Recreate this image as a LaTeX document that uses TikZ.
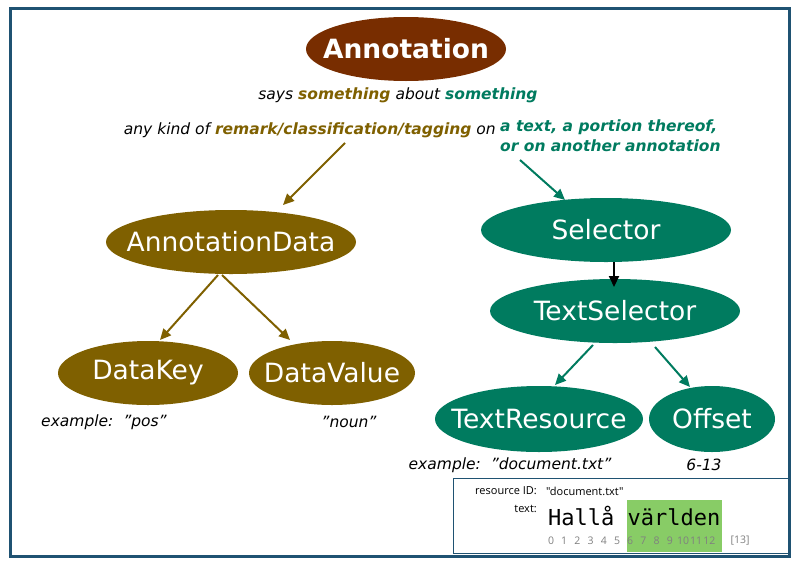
\documentclass[tikz,border=0pt]{standalone}
\usepackage{fontspec}
\setmainfont{DejaVu Sans}
\newfontfamily\monof{DejaVu Sans Mono}
\newfontfamily\condf{Open Sans}
\usetikzlibrary{shapes.geometric,arrows.meta}
\definecolor{frame}{HTML}{1F5272}
\definecolor{brn}{HTML}{782D00}
\definecolor{olv}{HTML}{7F6000}
\definecolor{grn}{HTML}{007B5F}
\definecolor{hl}{HTML}{88CC66}
\tikzset{
  ell/.style={text=white, font=\fontsize{26.5}{30}\selectfont, inner sep=0pt},
  oarr/.style={draw=olv, line width=2pt, -{Triangle[length=11pt,width=10pt]}},
  garr/.style={draw=grn, line width=2pt, -{Triangle[length=11pt,width=10pt]}},
  lab/.style={font=\itshape\fontsize{15.5}{18}\selectfont, inner sep=0pt},
  small/.style={font=\condf\fontsize{11}{12}\selectfont, inner sep=0pt},
  dig/.style={font=\condf\fontsize{10.5}{12}\selectfont, text=gray, inner sep=0pt}
}
\newcommand\qq{\symbol{34}}
\begin{document}
\begin{tikzpicture}[x=1pt,y=-1pt]
\useasboundingbox (0,0) rectangle (799,565);
\draw[frame, line width=3pt] (10,8) rectangle (789,556);
\fill[brn] (406,49) ellipse (100 and 32);
\fill[olv] (231,242) ellipse (125 and 32);
\fill[olv] (148,373) ellipse (90 and 32);
\fill[olv] (332,373) ellipse (83 and 32);
\fill[grn] (606,230) ellipse (125 and 32);
\fill[grn] (615,311) ellipse (125 and 32);
\fill[grn] (539,419) ellipse (104 and 33);
\fill[grn] (712,419) ellipse (63 and 33);
\node[ell, font=\bfseries\fontsize{26.5}{30}\selectfont] (ann) at (406,49) {Annotation};
\node[lab] (says) at (398,95) {says \textcolor{olv}{\bfseries something} about \textcolor{grn}{\bfseries something}};
\node[lab, anchor=east] (kind) at (496,130) {any kind of \textcolor{olv}{\bfseries remark/classification/tagging} on};
\node[lab, anchor=north west, text=grn, font=\bfseries\itshape\fontsize{15.5}{20}\selectfont, align=left] (txt) at (500,120) {a text, a portion thereof,\\or on another annotation};
\node[ell] (ad) at (231,242) {AnnotationData};
\node[ell] (dk) at (148,373) {DataKey};
\node[ell] (dv) at (332,373) {DataValue};
\node[ell] (sel) at (606,230) {Selector};
\node[ell] (ts) at (615,311) {TextSelector};
\node[ell] (tr) at (539,419) {TextResource};
\node[ell] (off) at (712,419) {Offset};
\coordinate (k1) at (345,143); \coordinate (k2) at (283,205);
\coordinate (t1) at (520,160); \coordinate (t2) at (565,200);
\draw[oarr] (k1) -- (k2);
\draw[garr] (t1) -- (t2);
\draw[oarr] (218,275) -- (160,340);
\draw[oarr] (222,275) -- (290,340);
\draw[line width=2pt, -{Triangle[length=11pt,width=10pt]}] (614,262) -- (614,287);
\draw[garr] (593,345) -- (555,385);
\draw[garr] (655,347) -- (690,387);
\node[lab] (ex1) at (104,422) {example:\ \ \qq pos\qq};
\node[lab] (ex2) at (349,422) {\qq noun\qq};
\node[lab] (ex3) at (510,465) {example:\ \ \qq document.txt\qq};
\node[lab] (ex4) at (704,465) {6-13};
\draw[frame, line width=1pt] (453,478) -- (453,553) -- (788,553);
\draw[frame, line width=1pt] (453,478) -- (788,478);
\fill[hl] (627,500) rectangle (722,552);
\node[small, anchor=east] (rid) at (537,491) {resource ID:};
\node[small, anchor=west] (ridv) at (546,491) {\qq document.txt\qq};
\node[small, anchor=east] (tl) at (537,509) {text:};
\node[font=\monof\fontsize{22}{24}\selectfont, anchor=base west, inner sep=0pt] (hv) at (548,525) {Hallå världen};
\foreach \i in {0,...,12} {
  \node[dig] (d\i) at ({551+13.2*\i},541) {\i};
}
\node[dig] (d13) at (740,541) {[13]};
\end{tikzpicture}
\end{document}
